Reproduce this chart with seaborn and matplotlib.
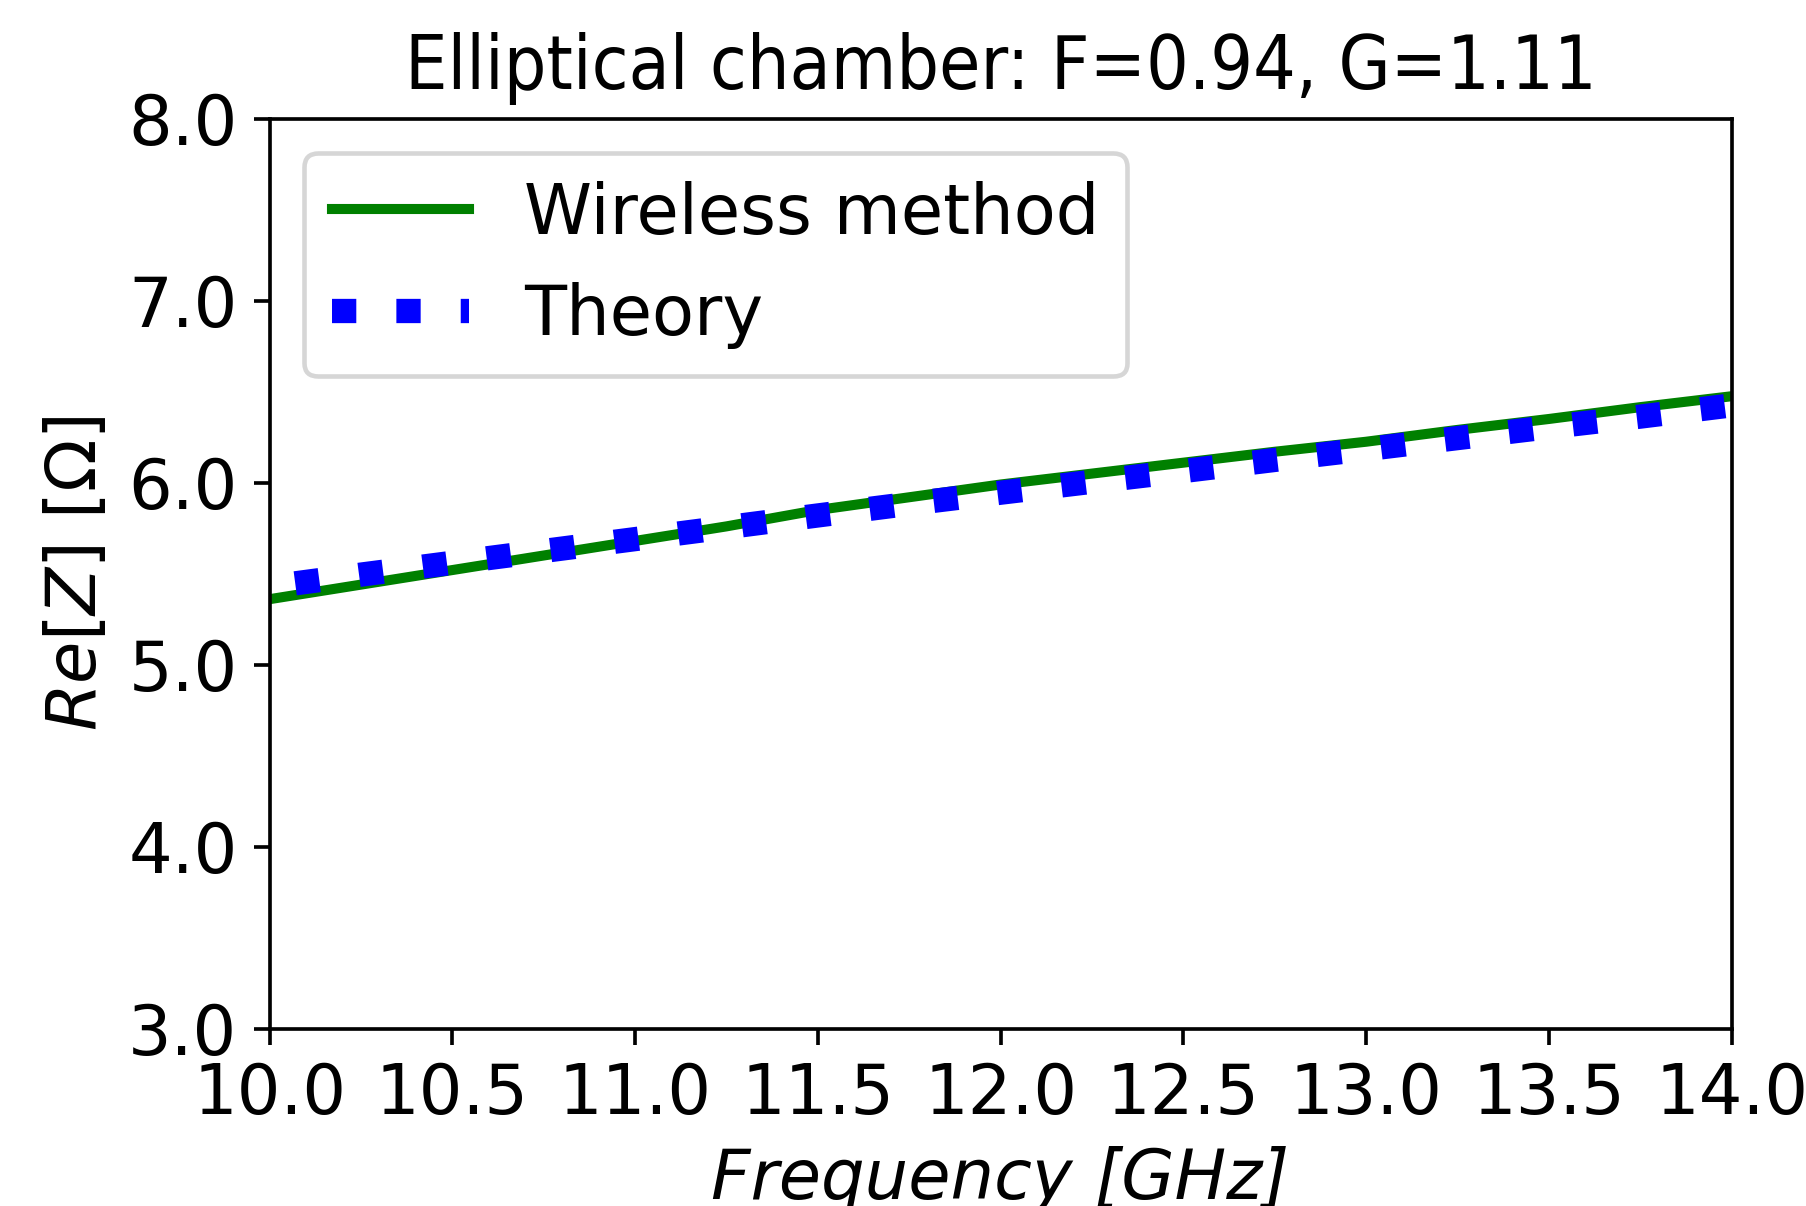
import matplotlib
matplotlib.use("Agg", force=True)
import matplotlib.pyplot as plt
import numpy as np
import pandas as pd
import seaborn as sns

# values
freq_wireless = [10.0, 10.25, 10.5, 10.75, 11.0, 11.25, 11.5, 11.75, 12.0,
                 12.25, 12.5, 12.75, 13.0, 13.25, 13.5, 13.75, 14.0]
rez_wireless = [5.36, 5.44, 5.52, 5.60, 5.68, 5.76, 5.85, 5.92, 5.99,
                6.05, 6.11, 6.17, 6.225, 6.29, 6.35, 6.415, 6.475]

freq_theory = [10.07, 10.25, 10.5, 10.75, 11.0, 11.25, 11.5, 11.75, 12.0,
               12.25, 12.5, 12.75, 13.0, 13.25, 13.5, 13.75, 14.0]
rez_theory = [5.447, 5.495, 5.56, 5.625, 5.69, 5.755, 5.82, 5.884, 5.945,
              6.005, 6.064, 6.125, 6.184, 6.245, 6.305, 6.363, 6.425]

x_ticks = [10.0, 10.5, 11.0, 11.5, 12.0, 12.5, 13.0, 13.5, 14.0]
y_ticks = [3.0, 4.0, 5.0, 6.0, 7.0, 8.0]

plt.rcParams["font.family"] = ["DejaVu Sans"]
plt.rcParams["font.size"] = 15
plt.rcParams["mathtext.fontset"] = "dejavusans"

wireless = pd.DataFrame({"freq": freq_wireless, "rez": rez_wireless})
theory = pd.DataFrame({"freq": freq_theory, "rez": rez_theory})

dpi = 330
fig, ax = plt.subplots(figsize=(1806 / dpi, 1206 / dpi), dpi=dpi)
fig.subplots_adjust(left=0.1493, right=0.9588, top=0.9016, bottom=0.147)

sns.lineplot(data=wireless, x="freq", y="rez", ax=ax, color="green",
             linewidth=2.2, label="Wireless method")
sns.lineplot(data=theory, x="freq", y="rez", ax=ax, color="blue",
             linewidth=5.3, linestyle=":", label="Theory")

ax.set_xlim(10.0, 14.0)
ax.set_ylim(3.0, 8.0)
ax.set_xticks(x_ticks)
ax.set_yticks(y_ticks)
ax.set_xticklabels([f"{t:.1f}" for t in x_ticks])
ax.set_yticklabels([f"{t:.1f}" for t in y_ticks])
ax.set_title("Elliptical chamber: F=0.94, G=1.11", fontsize=16.3,
             fontstretch="condensed", pad=6.5)
ax.set_xlabel("Frequency [GHz]", fontstyle="italic")
ax.set_ylabel(r"$Re[Z]$ [$\Omega$]")
ax.legend(loc="upper left")

fig.savefig("out.png", dpi=dpi)
